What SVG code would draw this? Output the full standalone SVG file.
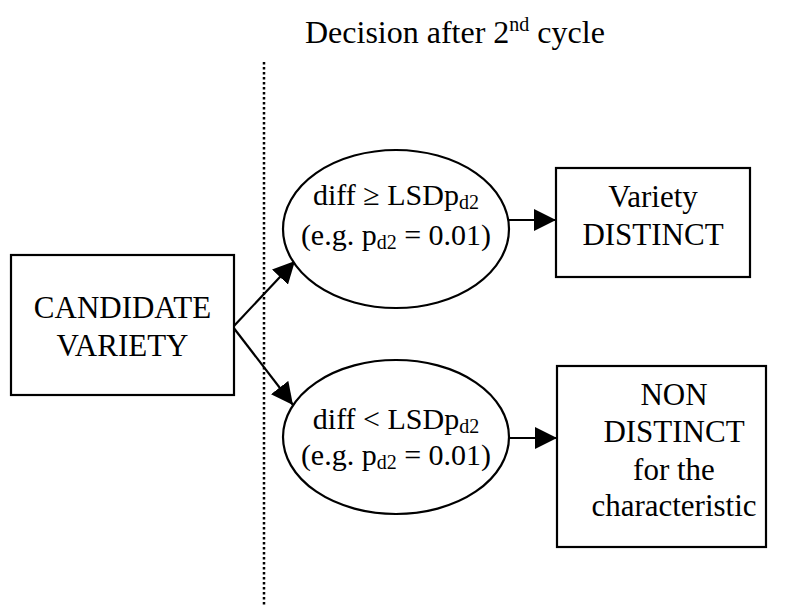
<svg xmlns="http://www.w3.org/2000/svg" width="792" height="608" viewBox="0 0 792 608">
<style>
  .shape { fill: #fff; stroke: #000; stroke-width: 2.2; }
  .t { font-family: "Liberation Serif", "Times New Roman", serif; font-size: 31px; fill: #000; text-anchor: middle; }
  .te { font-family: "Liberation Serif", "Times New Roman", serif; font-size: 30px; fill: #000; text-anchor: middle; }
  .title { font-family: "Liberation Serif", "Times New Roman", serif; font-size: 32px; fill: #000; }
  .sub { font-size: 20px; }
  .conn { stroke: #000; stroke-width: 2.2; fill: none; marker-end: url(#arr); }
  .divider { stroke: #000; stroke-width: 2.5; stroke-dasharray: 2.5 2.5; fill: none; }
</style>
<defs>
  <marker id="arr" markerUnits="userSpaceOnUse" markerWidth="22" markerHeight="22" viewBox="0 0 20 20" refX="20" refY="10" orient="auto">
    <path d="M0,0 L20,10 L0,20 Z" fill="#000"/>
  </marker>
</defs>
<rect width="792" height="608" fill="#fff"/>
<text class="title" x="305" y="43">Decision after 2<tspan font-size="20" dy="-12">nd</tspan><tspan dy="12"> cycle</tspan></text>
<line class="divider" x1="264" y1="62" x2="264" y2="607"/>
<g id="connectors">
  <line class="conn" x1="233" y1="327" x2="295" y2="261"/>
  <line class="conn" x1="233" y1="327" x2="293" y2="405"/>
  <line class="conn" x1="509" y1="220" x2="556" y2="220"/>
  <line class="conn" x1="509" y1="438" x2="557" y2="438"/>
</g>
<g id="candidate">
  <rect class="shape" x="11" y="255" width="223" height="140"/>
  <text class="t" x="122.5" y="318">CANDIDATE</text>
  <text class="t" x="122.5" y="356">VARIETY</text>
</g>
<g id="cond-ge">
  <ellipse class="shape" cx="396" cy="229" rx="113" ry="79"/>
  <text class="te" x="396" y="205">diff ≥ LSDp<tspan class="sub" dy="4">d2</tspan></text>
  <text class="te" x="396" y="245">(e.g. p<tspan class="sub" dy="4">d2</tspan><tspan dy="-4"> = 0.01)</tspan></text>
</g>
<g id="cond-lt">
  <ellipse class="shape" cx="396" cy="437" rx="113" ry="77"/>
  <text class="te" x="396" y="429">diff &lt; LSDp<tspan class="sub" dy="4">d2</tspan></text>
  <text class="te" x="396" y="465">(e.g. p<tspan class="sub" dy="4">d2</tspan><tspan dy="-4"> = 0.01)</tspan></text>
</g>
<g id="distinct">
  <rect class="shape" x="556" y="168" width="194" height="109"/>
  <text class="t" x="653" y="207">Variety</text>
  <text class="t" x="653" y="245">DISTINCT</text>
</g>
<g id="non-distinct">
  <rect class="shape" x="557" y="366" width="209" height="181"/>
  <text class="t" x="674" y="405">NON</text>
  <text class="t" x="674" y="442">DISTINCT</text>
  <text class="t" x="674" y="480">for the</text>
  <text class="t" x="674" y="516">characteristic</text>
</g>
</svg>
